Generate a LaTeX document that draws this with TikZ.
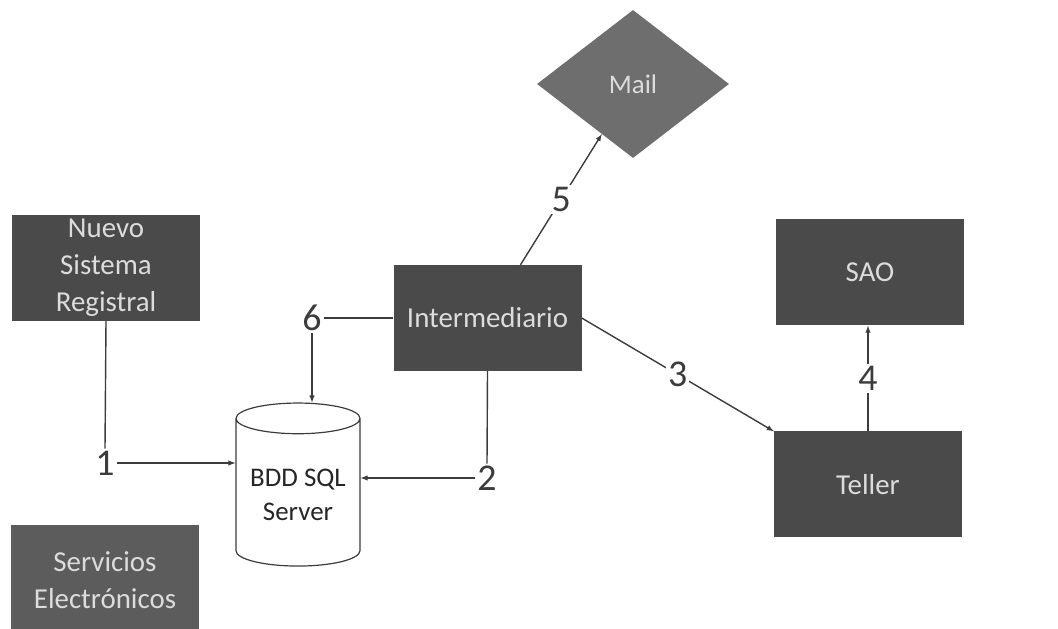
\documentclass[tikz,border=0pt]{standalone}
\usepackage{fontspec}
\setmainfont{Carlito}
\usetikzlibrary{shapes.geometric}
\definecolor{boxgray}{HTML}{4A4A4A}
\definecolor{servgray}{HTML}{5C5C5C}
\definecolor{mailgray}{HTML}{6E6E6E}
\definecolor{boxtext}{HTML}{DCDCDC}
\definecolor{linegray}{HTML}{3C3C3C}
\tikzset{
  bloque/.style={draw=none,fill=boxgray,text=boxtext,minimum width=188bp,minimum height=106bp,
    align=center,font=\fontsize{29}{37}\selectfont},
  numero/.style={fill=white,inner sep=2bp,text=linegray,font=\fontsize{38}{40}\selectfont},
  enlace/.style={draw=linegray,line width=1.4bp},
}
\begin{document}
\begin{tikzpicture}[>=latex,line join=bevel,]
%%
\useasboundingbox (0bp,0bp) rectangle (1058bp,629bp);
\node (node_registral) at (106bp,361bp) [bloque] {Nuevo\\Sistema\\Registral};
  \node (node_servicios) at (105bp,49bp) [bloque,fill=servgray,minimum height=110bp] {Servicios\\Electrónicos};
  \node (node_intermediario) at (487.5bp,311bp) [bloque] {Intermediario};
  \node (node_sao) at (870bp,356.5bp) [bloque] {SAO};
  \node (node_teller) at (868bp,144.5bp) [bloque] {Teller};
  \node (node_mail) at (633bp,545bp) [diamond,draw=none,fill=mailgray,text=boxtext,inner sep=0bp,
    minimum width=192bp,minimum height=148bp,aspect=1.3,font=\fontsize{27}{30}\selectfont] {Mail};
  \node (node_bdd) at (298bp,134bp) [cylinder,shape border rotate=90,draw=linegray,line width=1.2bp,
    fill=white,text=black!85,align=center,minimum width=124bp,minimum height=163bp,aspect=0.3,
    font=\fontsize{27}{34}\selectfont] {BDD SQL\\Server};
%
\node (lab_1) at (105bp,166bp) [numero] {1};
  \node (lab_2) at (487bp,151bp) [numero] {2};
  \node (lab_6) at (312bp,311bp) [numero] {6};
%
\draw [enlace] (node_registral.south) -- (lab_1.north);
  \draw [enlace,->] (lab_1.east) -- (lab_1.east -| node_bdd.west);
  \draw [enlace] (node_intermediario.south) -- (lab_2.north);
  \draw [enlace,->] (lab_2.west) -- (lab_2.west -| node_bdd.east);
  \draw [enlace] (node_intermediario.west) -- (lab_6.east);
  \draw [enlace,->] (lab_6.south) -- (lab_6.south |- node_bdd.north);
  \draw [enlace,->] ([xshift=33bp]node_intermediario.north) -- node[numero] {5} (node_mail);
  \draw [enlace,->] (node_intermediario.east) -- node[numero] {3} (node_teller.north west);
  \draw [enlace,->] (node_teller.north) -- node[numero] {4} (node_teller.north |- node_sao.south);
%
\end{tikzpicture}
\end{document}
